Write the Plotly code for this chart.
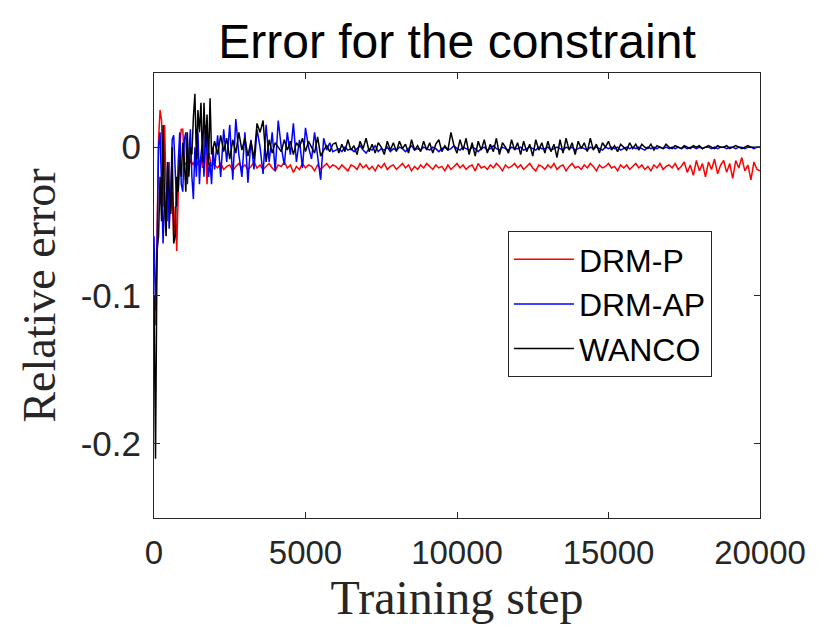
import plotly.graph_objects as go

# Training steps (x values): every 50 steps up to 2000, then every 100 steps
steps = list(range(0, 2000, 50)) + list(range(2000, 20001, 100))

# ---- DRM-P (red) ----
drm_p_early = [-0.100, -0.120, -0.060, 0.005, 0.025, 0.018, -0.040, 0.015, -0.030, -0.050,
               -0.010, -0.045, -0.030, -0.060, -0.040, -0.070, -0.030, 0.000, 0.012, 0.012,
               -0.010, -0.012, -0.009, -0.013, -0.008, -0.012, -0.010, -0.014, -0.009, -0.012,
               -0.010, -0.006, -0.014, -0.005, 0.001, -0.025, -0.003, -0.008, -0.013, -0.011]
drm_p_mid = [-0.012, -0.014, -0.011, -0.015, -0.013, -0.012, -0.016, -0.013, -0.011, -0.014,
             -0.012, -0.015, -0.013, -0.010, -0.014, -0.012, -0.015, -0.013, -0.011, -0.014,
             -0.016, -0.012, -0.013, -0.010, -0.014, -0.012, -0.017, -0.013, -0.015, -0.011,
             -0.014, -0.012, -0.013, -0.016, -0.012, -0.015, -0.013, -0.011, -0.014, -0.012]
drm_p_late = [-0.013, -0.015, -0.012, -0.014, -0.016, -0.012, -0.013, -0.015, -0.011, -0.014,
              -0.012, -0.015, -0.013, -0.016, -0.012, -0.014, -0.011, -0.015, -0.013, -0.012,
              -0.015, -0.013, -0.011, -0.014, -0.012, -0.016, -0.013, -0.015, -0.012, -0.014,
              -0.011, -0.013, -0.015, -0.012, -0.014, -0.013, -0.016, -0.012, -0.015, -0.013,
              -0.011, -0.014, -0.012, -0.015, -0.013, -0.012, -0.016, -0.011, -0.014, -0.013,
              -0.015, -0.012, -0.014, -0.011, -0.013, -0.016, -0.012, -0.014, -0.013, -0.011,
              -0.014, -0.012, -0.015, -0.013, -0.011, -0.014, -0.016, -0.012, -0.013, -0.015,
              -0.012, -0.014, -0.011, -0.015, -0.013, -0.012, -0.016, -0.013, -0.011, -0.014,
              -0.013, -0.015, -0.012, -0.014, -0.011, -0.013, -0.016, -0.012, -0.014, -0.013,
              -0.011, -0.014, -0.013, -0.016, -0.012, -0.014, -0.012, -0.015, -0.013, -0.011,
              -0.014, -0.012, -0.015, -0.013, -0.016, -0.012, -0.014, -0.011, -0.015, -0.013,
              -0.012, -0.014, -0.011, -0.015, -0.013, -0.010, -0.017, -0.012, -0.019, -0.009,
              -0.016, -0.011, -0.020, -0.010, -0.015, -0.008, -0.018, -0.012, -0.009, -0.017,
              -0.011, -0.021, -0.009, -0.014, -0.007, -0.016, -0.012, -0.022, -0.010, -0.015,
              -0.016]
drm_p = drm_p_early + drm_p_mid + drm_p_late

# ---- DRM-AP (blue) ----
drm_ap_early = [-0.060, -0.110, -0.070, 0.000, 0.010, -0.040, -0.065, -0.030, -0.050, -0.010,
                -0.055, -0.035, 0.005, 0.008, -0.020, -0.040, -0.010, 0.010, -0.025, -0.030,
                0.005, 0.010, -0.025, -0.010, 0.012, -0.020, -0.035, 0.000, -0.020, 0.010,
                -0.025, -0.005, 0.003, -0.020, 0.015, -0.005, -0.020, -0.010, -0.025, 0.000]
drm_ap_mid = [-0.015, 0.008, -0.020, 0.012, -0.010, 0.015, -0.022, 0.019, -0.005, -0.020,
              0.010, -0.024, 0.005, -0.015, 0.012, 0.000, -0.018, 0.015, -0.010, 0.010,
              -0.016, 0.018, 0.000, -0.012, 0.010, -0.005, 0.016, -0.010, 0.005, -0.014,
              0.013, 0.000, -0.008, 0.010, -0.005, -0.022, 0.006, -0.002, 0.003, -0.003]
drm_ap_late = [-0.002, -0.001, -0.003, 0.000, -0.002, -0.001, -0.003, -0.001, 0.001, -0.002,
               -0.004, -0.001, -0.002, 0.001, -0.003, -0.001, -0.002, 0.000, -0.003, -0.001,
               -0.002, 0.000, -0.001, -0.003, -0.001, 0.001, -0.002, -0.001, -0.002, 0.000,
               -0.001, -0.002, 0.000, -0.001, -0.003, -0.001, 0.000, -0.002, -0.001, 0.001,
               -0.001, -0.002, 0.000, -0.001, -0.002, 0.000, -0.001, -0.003, -0.001, 0.000,
               -0.002, -0.001, 0.001, -0.001, -0.002, 0.000, -0.001, -0.002, 0.000, -0.001,
               -0.001, 0.000, -0.002, -0.001, 0.000, -0.001, -0.002, 0.000, -0.001, -0.001,
               0.000, -0.002, -0.001, 0.000, -0.001, -0.002, 0.000, -0.001, 0.000, -0.002,
               -0.001, 0.000, -0.001, -0.002, 0.000, -0.001, 0.000, -0.001, -0.002, 0.000,
               -0.001, 0.000, -0.001, 0.000, -0.002, -0.001, 0.000, -0.001, 0.000, -0.001,
               0.000, -0.001, -0.002, 0.000, -0.001, 0.000, -0.001, 0.000, -0.001, 0.000,
               -0.001, 0.000, -0.001, 0.000, -0.001, 0.000, -0.001, 0.000, 0.000, -0.001,
               0.000, -0.001, 0.000, 0.000, -0.001, 0.000, -0.001, 0.000, 0.000, -0.001,
               0.000, 0.000, -0.001, 0.000, 0.000, -0.001, 0.000, 0.000, -0.001, 0.000,
               0.000]
drm_ap = drm_ap_early + drm_ap_mid + drm_ap_late

# ---- WANCO (black) ----
wanco_early = [-0.100, -0.210, -0.070, -0.060, -0.020, -0.050, 0.015, -0.040, -0.060, -0.010,
               -0.030, -0.045, 0.000, -0.065, -0.060, -0.020, -0.030, -0.005, -0.020, 0.003,
               -0.010, -0.030, 0.010, -0.020, 0.000, -0.005, 0.020, 0.036, -0.008, 0.025,
               0.010, 0.030, -0.010, 0.030, 0.000, 0.022, -0.012, 0.033, -0.005, 0.000]
wanco_mid = [0.004, -0.005, 0.008, -0.003, 0.006, -0.008, 0.005, -0.004, 0.010, -0.002,
             0.006, -0.006, 0.004, -0.008, 0.016, 0.010, 0.018, -0.010, 0.005, -0.004,
             0.003, 0.000, -0.003, 0.005, -0.002, 0.004, -0.005, 0.003, 0.000, 0.006,
             -0.003, 0.004, 0.000, -0.004, 0.007, -0.006, -0.002, 0.001, -0.003, 0.002]
wanco_late = [0.003, -0.004, 0.002, -0.003, 0.005, -0.002, 0.001, -0.005, 0.004, -0.001,
              0.006, -0.003, 0.002, -0.004, 0.003, 0.000, -0.005, 0.004, -0.002, 0.003,
              -0.003, 0.004, -0.001, 0.002, -0.004, 0.005, -0.002, 0.001, -0.003, 0.004,
              -0.002, 0.003, -0.004, 0.002, 0.005, -0.003, 0.001, -0.002, 0.010, 0.001,
              -0.004, 0.005, -0.002, 0.006, -0.005, 0.003, -0.006, 0.004, -0.002, 0.005,
              -0.004, 0.002, -0.003, 0.006, -0.005, 0.003, 0.000, -0.004, 0.005, -0.002,
              0.003, -0.005, 0.004, -0.003, 0.002, -0.006, 0.005, -0.002, 0.003, -0.004,
              0.004, -0.003, 0.002, -0.007, 0.005, -0.004, 0.006, -0.002, 0.003, -0.005,
              0.004, -0.001, 0.003, -0.003, 0.006, -0.002, 0.002, -0.004, 0.003, 0.000,
              0.004, -0.002, 0.001, -0.003, 0.002, 0.000, -0.002, 0.003, -0.001, 0.002,
              -0.002, 0.002, 0.000, -0.001, 0.002, -0.002, 0.001, 0.000, -0.001, 0.002,
              0.000, -0.001, 0.001, 0.000, -0.001, 0.001, 0.000, -0.001, 0.001, 0.000,
              0.001, -0.001, 0.000, 0.001, 0.000, -0.001, 0.001, 0.000, 0.000, 0.001,
              -0.001, 0.000, 0.001, 0.000, -0.001, 0.000, 0.001, 0.000, 0.000, 0.000,
              0.000]
wanco = wanco_early + wanco_mid + wanco_late

series_names = ["DRM-P", "DRM-AP", "WANCO"]
series_colors = ["#ff0000", "#0000ff", "#000000"]
x_ticks = [0, 5000, 10000, 15000, 20000]
y_ticks = [-0.2, -0.1, 0]
y_tick_labels = ["-0.2", "-0.1", "0"]

AX = "#262626"

fig = go.Figure()
for name, ys, col in zip(series_names, [drm_p, drm_ap, wanco], series_colors):
    fig.add_trace(go.Scatter(x=steps, y=ys, mode="lines", name=name,
                             line=dict(color=col, width=1.5)))

fig.update_layout(
    width=840, height=630,
    margin=dict(l=146, r=88, t=65, b=120),
    paper_bgcolor="white", plot_bgcolor="white",
    title=dict(text="Error for the constraint", x=0.5345, xanchor="center",
               y=0.947, yanchor="middle",
               font=dict(family="Liberation Sans, Arial", size=48, color="black")),
    font=dict(family="Liberation Sans, Arial", color=AX),
    showlegend=True,
    legend=dict(x=0.584, y=0.645, xanchor="left", yanchor="top",
                bgcolor="white", bordercolor=AX, borderwidth=1,
                font=dict(family="Liberation Sans, Arial", size=32, color="black"),
                tracegroupgap=0, itemwidth=60),
)
fig.update_xaxes(range=[0, 20000], tickvals=x_ticks,
                 ticktext=[str(v) for v in x_ticks],
                 ticks="inside", ticklen=6, tickcolor=AX, showline=True,
                 linecolor=AX, linewidth=1, mirror="ticks", showgrid=False,
                 zeroline=False, tickfont=dict(size=33, color=AX),
                 ticklabelstandoff=5,
                 title=dict(text="Training step", standoff=9,
                            font=dict(family="Liberation Serif, Times New Roman",
                                      size=48, color=AX)))
fig.update_yaxes(range=[-0.25, 0.05], tickvals=y_ticks, ticktext=y_tick_labels,
                 ticks="inside", ticklen=6, tickcolor=AX, showline=True,
                 linecolor=AX, linewidth=1, mirror="ticks", showgrid=False,
                 zeroline=False, tickfont=dict(size=35, color=AX),
                 ticklabelstandoff=5,
                 title=dict(text="Relative error", standoff=10,
                            font=dict(family="Liberation Serif, Times New Roman",
                                      size=46, color=AX)))

fig.write_html("out.html")
